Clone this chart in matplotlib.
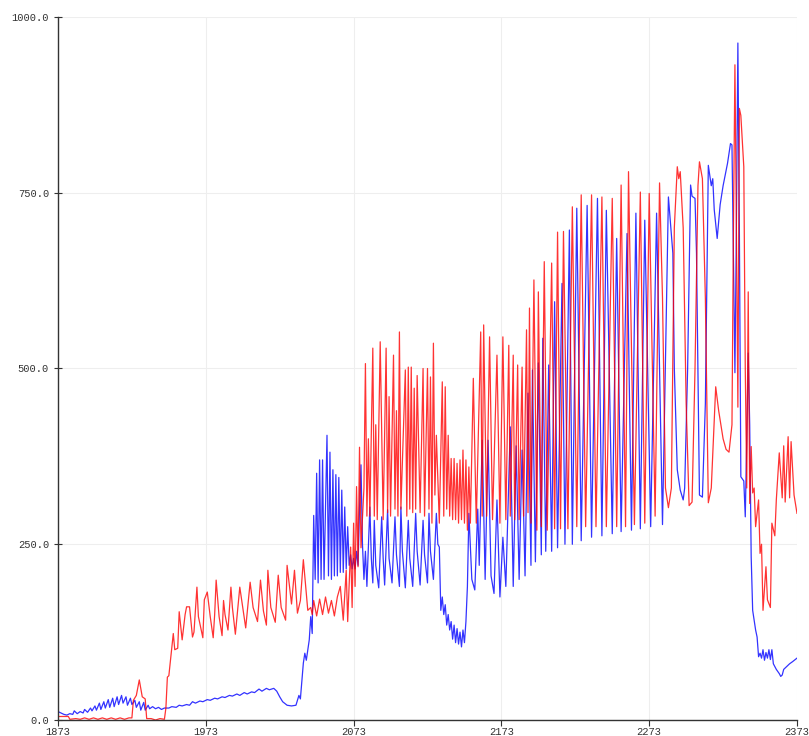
import matplotlib
matplotlib.use("Agg")
import matplotlib.pyplot as plt

# Two serial-plotter traces, sample index 1873..2373
# vertices (sample, value)
blue_x = [1873, 1875, 1877, 1879, 1881, 1883, 1884, 1886, 1888, 1890, 1891, 1893, 1895, 1896, 1898, 1899,
          1901, 1902, 1904, 1905, 1907, 1908, 1910, 1911, 1913, 1914, 1916, 1917, 1919, 1920, 1922, 1923,
          1925, 1926, 1928, 1929, 1931, 1932, 1934, 1935, 1937, 1939, 1941, 1943, 1945, 1948, 1950, 1953,
          1955, 1957, 1960, 1962, 1964, 1966, 1969, 1971, 1974, 1976, 1979, 1981, 1984, 1986, 1989, 1991,
          1994, 1996, 1999, 2001, 2004, 2006, 2009, 2011, 2014, 2016, 2019, 2021, 2023, 2025, 2028, 2031,
          2034, 2036, 2037, 2039, 2040, 2041, 2043, 2044, 2045,
          2046, 2047, 2048, 2049, 2050, 2051, 2052, 2053, 2055, 2056, 2057, 2058, 2059, 2060, 2061, 2062,
          2063, 2064, 2065, 2066, 2067, 2068, 2069, 2070, 2071, 2072, 2073, 2074, 2075, 2076, 2077, 2078,
          2079, 2080, 2081, 2082, 2084, 2085, 2086, 2087, 2088, 2090, 2092, 2093, 2094, 2096, 2097, 2099,
          2101, 2102, 2104, 2105, 2106, 2108, 2110, 2111, 2113, 2115, 2116, 2118, 2120, 2121, 2123, 2124,
          2125, 2127, 2129, 2130, 2131, 2132, 2133, 2134, 2135, 2136, 2137, 2138, 2139, 2140, 2141, 2142,
          2143, 2144, 2145, 2146, 2147, 2148, 2149, 2150, 2151, 2153, 2155, 2157, 2158, 2160, 2162, 2164,
          2166, 2168, 2170, 2172, 2174, 2176, 2179, 2181, 2183, 2185, 2187, 2189, 2191, 2193, 2194, 2196,
          2198, 2200, 2201, 2203, 2205, 2207, 2209, 2211, 2214, 2216, 2219, 2221, 2224, 2227, 2231, 2234,
          2238, 2241, 2244, 2248, 2251, 2254, 2258, 2261, 2264, 2267, 2270, 2274, 2278, 2282, 2286, 2288,
          2289, 2290, 2292, 2294, 2296, 2297, 2299, 2301, 2302, 2304, 2305, 2307, 2309, 2311, 2313, 2315,
          2316, 2317, 2319, 2321, 2323, 2326, 2328, 2329, 2331, 2332, 2333, 2334, 2335, 2337, 2338, 2339,
          2340, 2341, 2342, 2343, 2345, 2346, 2347, 2348, 2349, 2350, 2351, 2352, 2353, 2354, 2355, 2356,
          2357, 2358, 2359, 2361, 2362, 2363, 2364, 2366, 2368, 2370, 2373]
blue_y = [12, 10, 8, 7, 9, 8, 13, 9, 12, 10, 15, 11, 17, 13, 20, 14,
          24, 15, 26, 17, 29, 18, 31, 19, 33, 22, 35, 24, 33, 21, 31, 22,
          28, 18, 26, 14, 25, 14, 21, 16, 19, 16, 18, 15, 17, 17, 19, 18,
          21, 20, 22, 21, 26, 24, 27, 26, 29, 28, 31, 30, 33, 32, 35, 34,
          37, 35, 39, 37, 40, 39, 44, 41, 45, 43, 45, 41, 33, 26, 21, 20,
          21, 35, 30, 81, 95, 85, 114, 147, 123,
          291, 200, 351, 195, 370, 200, 370, 200, 405, 205, 381, 200, 356, 205, 349, 205,
          345, 210, 327, 210, 303, 215, 275, 220, 235, 215, 230, 215, 240, 220, 300, 363,
          250, 200, 240, 190, 303, 230, 195, 284, 220, 188, 289, 230, 192, 299, 230, 195,
          289, 235, 190, 303, 240, 188, 284, 230, 190, 294, 240, 192, 284, 235, 195, 294,
          240, 200, 294, 250, 246, 156, 175, 150, 164, 135, 150, 128, 140, 115, 135, 110,
          130, 108, 125, 104, 128, 110, 140, 190, 294, 200, 185, 300, 220, 398, 200, 398,
          205, 180, 313, 175, 260, 190, 417, 190, 390, 200, 384, 205, 465, 220, 498, 225,
          508, 235, 543, 240, 505, 240, 595, 245, 621, 250, 697, 250, 728, 255, 732, 260,
          742, 262, 725, 265, 685, 268, 692, 270, 721, 272, 711, 275, 721, 278, 744, 690,
          664, 500, 356, 327, 313, 330, 500, 761, 745, 742, 664, 320, 317, 450, 789, 760,
          770, 726, 685, 733, 760, 792, 820, 818, 494, 700, 963, 700, 346, 340, 289, 400,
          522, 420, 232, 156, 128, 118, 90, 95, 88, 100, 85, 96, 88, 100, 86, 100,
          80, 76, 72, 66, 62, 64, 72, 76, 80, 83, 88]

red_x = [1873, 1880, 1881, 1885, 1888, 1891, 1894, 1897, 1900, 1903, 1906, 1909, 1912, 1915, 1918, 1921,
         1923, 1924, 1926, 1928, 1930, 1932, 1933, 1936, 1939, 1942, 1945, 1946, 1947, 1948, 1951, 1952,
         1954, 1955, 1957, 1959, 1960, 1962, 1964, 1965, 1967, 1968, 1971, 1972, 1974, 1976, 1978, 1979,
         1980, 1982, 1984, 1985, 1986, 1988, 1990, 1991, 1993, 1996, 1998, 2000, 2003, 2005, 2008, 2010,
         2012, 2014, 2015, 2017, 2020, 2022, 2024, 2027, 2028, 2031, 2033, 2035, 2037, 2039, 2042, 2044,
         2045, 2046, 2048, 2050, 2052, 2054, 2056, 2058, 2060, 2062, 2064, 2066, 2068, 2069, 2071, 2072,
         2073, 2074, 2075, 2076, 2077, 2078, 2080, 2081, 2082, 2083, 2084, 2086, 2087, 2088, 2089, 2091,
         2093, 2095, 2096, 2097, 2098, 2100, 2101, 2102, 2103, 2104, 2105, 2108, 2109, 2110, 2111, 2112,
         2113, 2114, 2115, 2116, 2118, 2120, 2121, 2123, 2124, 2125, 2126, 2127, 2128, 2129, 2131, 2133,
         2134, 2135, 2136, 2137, 2138, 2139, 2140, 2141, 2142, 2143, 2144, 2145, 2146, 2147, 2148, 2149,
         2150, 2151, 2152, 2154, 2156, 2159, 2160, 2161, 2163, 2165, 2167, 2170, 2172, 2174, 2176, 2178,
         2179, 2181, 2182, 2184, 2185, 2187, 2188, 2190, 2191, 2192, 2193, 2195, 2197, 2198, 2200, 2202,
         2204, 2207, 2209, 2211, 2213, 2215, 2218, 2221, 2224, 2227, 2230, 2234, 2237, 2241, 2244, 2248,
         2251, 2254, 2257, 2259, 2263, 2267, 2270, 2273, 2277, 2280, 2282, 2284, 2286, 2288, 2290, 2292,
         2293, 2294, 2296, 2298, 2300, 2302, 2304, 2306, 2307, 2309, 2311, 2313, 2315, 2318, 2320, 2323,
         2325, 2327, 2329, 2330, 2331, 2332, 2333, 2334, 2335, 2337, 2338, 2339, 2340, 2341, 2342, 2343,
         2344, 2345, 2347, 2348, 2349, 2350, 2352, 2353, 2355, 2356, 2358, 2359, 2361, 2363, 2364, 2365,
         2367, 2368, 2369, 2371, 2373]
red_y = [5, 5, 1, 2, 1, 3, 1, 3, 1, 3, 1, 3, 1, 3, 1, 3,
         3, 28, 35, 57, 33, 30, 2, 2, 0, 2, 1, 17, 61, 63, 123, 100,
         102, 154, 114, 150, 161, 161, 118, 125, 189, 147, 117, 171, 182, 147, 117, 150,
         199, 147, 120, 170, 150, 128, 189, 160, 122, 189, 160, 131, 196, 160, 140, 199,
         155, 135, 213, 160, 139, 206, 160, 142, 220, 165, 213, 152, 170, 228, 156, 160,
         150, 170, 148, 172, 150, 175, 152, 170, 148, 175, 190, 142, 213, 140, 246, 160,
         280, 190, 332, 218, 388, 245, 330, 507, 290, 400, 290, 529, 290, 420, 285, 538,
         285, 529, 295, 460, 290, 519, 300, 440, 290, 552, 300, 498, 290, 502, 300, 502,
         295, 472, 300, 490, 295, 500, 290, 500, 300, 488, 280, 536, 320, 405, 280, 481,
         290, 474, 300, 405, 290, 372, 285, 372, 285, 365, 280, 370, 285, 384, 280, 370,
         270, 360, 280, 486, 280, 552, 290, 562, 290, 545, 285, 519, 280, 545, 285, 533,
         290, 519, 285, 505, 285, 502, 290, 555, 295, 586, 280, 626, 270, 609, 275, 652,
         270, 650, 272, 694, 272, 695, 272, 730, 275, 747, 275, 747, 275, 744, 275, 742,
         275, 761, 275, 780, 278, 751, 280, 749, 290, 764, 600, 330, 302, 330, 700, 787,
         770, 780, 700, 450, 305, 310, 500, 760, 794, 770, 600, 309, 330, 474, 440, 400,
         385, 381, 420, 700, 932, 700, 445, 870, 860, 787, 500, 330, 609, 308, 389, 323,
         330, 275, 313, 237, 250, 156, 218, 171, 160, 280, 262, 313, 380, 316, 390, 310,
         403, 316, 396, 320, 294]

x_ticks = [1873, 1973, 2073, 2173, 2273, 2373]
y_ticks = [0, 250, 500, 750, 1000]

fig = plt.figure(figsize=(8.09, 7.36), dpi=100)
ax = fig.add_axes([58 / 809, 16 / 736, 739 / 809, 703 / 736])

ax.plot(blue_x, blue_y, color="#0000ff", lw=0.9, alpha=0.8)
ax.plot(red_x, red_y, color="#ff0000", lw=0.9, alpha=0.8)

ax.set_xlim(1873, 2373)
ax.set_ylim(0, 1000)
ax.set_xticks(x_ticks)
ax.set_yticks(y_ticks)
ax.set_xticklabels([str(t) for t in x_ticks])
ax.set_yticklabels(["%.1f" % t for t in y_ticks])

ax.grid(True, color="#eeeeee", lw=0.8)
ax.set_axisbelow(True)
for side in ["top", "right"]:
    ax.spines[side].set_visible(False)
for side in ["left", "bottom"]:
    ax.spines[side].set_color("#333333")
    ax.spines[side].set_linewidth(1.0)

ax.tick_params(axis="y", direction="inout", length=6, width=0.8, color="#333333",
               pad=3.5, labelsize=7.5, labelcolor="#333333")
ax.tick_params(axis="x", direction="out", length=4, width=0.8, color="#333333",
               pad=1, labelsize=7.5, labelcolor="#333333")
for lab in ax.get_xticklabels() + ax.get_yticklabels():
    lab.set_family("Liberation Mono")

fig.savefig("out.png", dpi=100)
